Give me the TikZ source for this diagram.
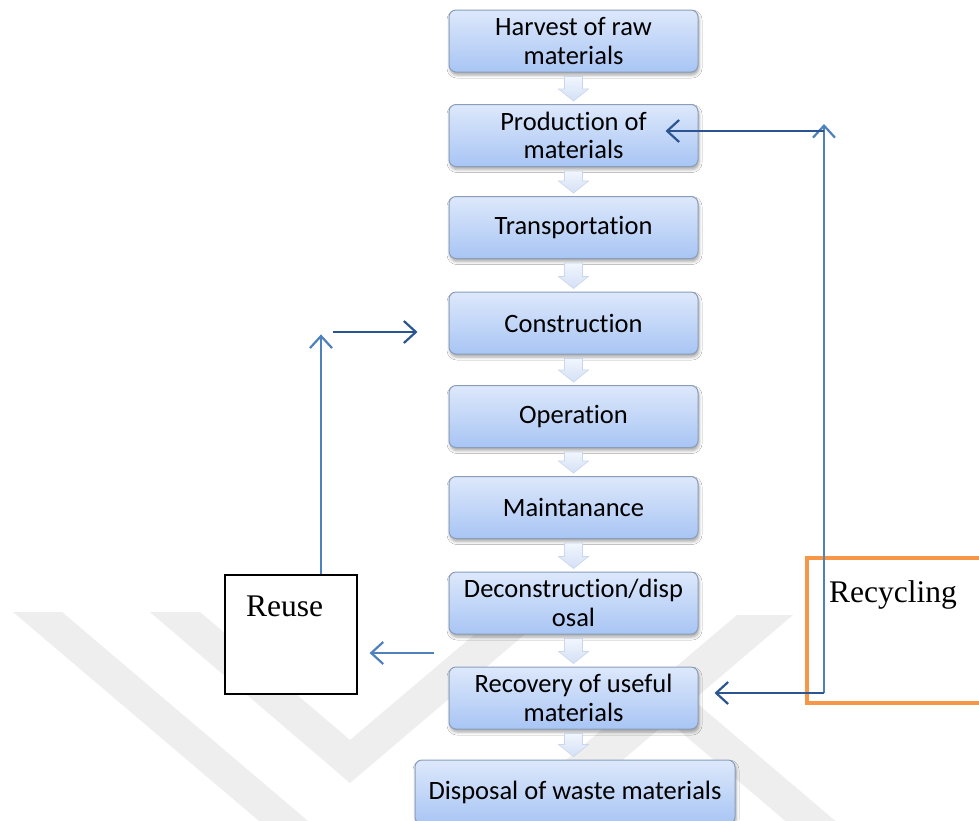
\documentclass[tikz,border=0pt]{standalone}
\usepackage{fontspec}
\setmainfont{Liberation Serif}
\newfontfamily\boxfont{Carlito}[RawFeature={-liga;-clig;-dlig;-rlig;-calt}]
\usetikzlibrary{arrows.meta,shadows.blur,calc}

\definecolor{boxtop}{HTML}{DDE8FB}
\definecolor{boxbot}{HTML}{A8C5F4}
\definecolor{boxline}{HTML}{8A9DBB}
\definecolor{arrtop}{HTML}{F2F6FD}
\definecolor{arrbot}{HTML}{D3E0F6}
\definecolor{arrline}{HTML}{C9D6EC}
\definecolor{linkblue}{HTML}{4F81BD}
\definecolor{linknavy}{HTML}{2A5592}
\definecolor{recyorange}{HTML}{F79646}
\definecolor{markgray}{HTML}{EEEEEE}

% block arrow pointing down from one stage to the next
\newcommand{\stagearrow}[2]{%
  \path[stagedown] let \p1=(#1.south), \p2=(#2.north) in
    ({\x1-9pt},{\y1-4pt}) -- ({\x1+9pt},{\y1-4pt}) -- ({\x1+9pt},{\y2+15pt})
    -- ({\x1+15pt},{\y2+15pt}) -- (\x1,{\y2+3pt}) -- ({\x1-15pt},{\y2+15pt})
    -- ({\x1-9pt},{\y2+15pt}) -- cycle;}

\begin{document}
\begin{tikzpicture}[x=1pt,y=1pt,
  stage/.style={draw=boxline, line width=1pt, rounded corners=7pt,
    top color=boxtop, bottom color=boxbot,
    minimum width=249pt, minimum height=62pt, inner sep=2pt, align=center,
    font=\boxfont\fontsize{26.5}{28.5}\selectfont,
    blur shadow={shadow xshift=1pt, shadow yshift=-3pt, shadow opacity=35, shadow blur radius=3pt}},
  stagedown/.style={draw=arrline, line width=0.6pt, top color=arrtop, bottom color=arrbot},
  link/.style={line width=2.2pt, -{Straight Barb[length=12pt,width=22pt]}},
  sidebox/.style={draw, line width=1.2pt, fill=white, inner sep=0pt},
  sidetext/.style={font=\fontsize{31.5}{34}\selectfont, inner sep=0pt},
  emblem/.style={fill=markgray, draw=none}
]
\clip (0,0) rectangle (979,-820);
\fill[white] (0,0) rectangle (979,-820);

% faint background emblem
\path[emblem] (13,-612) -- (62,-612) -- (401,-900) -- (737,-615) -- (793,-615) -- (405,-945) -- cycle;
\path[emblem] (150,-612) -- (200,-612) -- (350,-740) -- (501,-612) -- (551,-612) -- (350,-783) -- cycle;
\path[emblem] (693,-700) -- (846,-830) -- (796,-830) -- (668,-721) -- cycle;

% life-cycle stages
\node[stage] (harv)   at (573.5,-41)    {Harvest of raw\\materials};
\node[stage] (prod)   at (573.5,-135.5) {Production of\\materials};
\node[stage] (trans)  at (573.5,-227.5) {Transportation};
\node[stage] (constr) at (573.5,-323)   {Construction};
\node[stage] (oper)   at (573.5,-416.5) {Operation};
\node[stage] (maint)  at (573.5,-507.5) {Maintanance};
\node[stage] (decon)  at (573.5,-603)   {Deconstruction/disp\\osal};
\node[stage] (recov)  at (573.5,-698)   {Recovery of useful\\materials};
\node[stage, minimum width=320pt, minimum height=64pt] (disp) at (575,-792) {Disposal of waste materials};

\stagearrow{harv}{prod}
\stagearrow{prod}{trans}
\stagearrow{trans}{constr}
\stagearrow{constr}{oper}
\stagearrow{oper}{maint}
\stagearrow{maint}{decon}
\stagearrow{decon}{recov}
\stagearrow{recov}{disp}

% reuse loop
\node[sidebox, minimum width=132pt, minimum height=119pt] (reuse) at (291,-634.5) {};
\node[sidetext, anchor=base] (reuselbl) at (284.5,-616) {Reuse};
\coordinate (reuseFoot) at ($(reuse.north)+(30,0)$);
\coordinate (reuseTop)  at ($(reuse.north)+(30,240)$);
\coordinate (reuseFrom) at ($(constr.west)+(-116,-9)$);
\coordinate (reuseInto) at ($(constr.west)+(-31,-9)$);
\coordinate (deconOut)  at ($(decon.west)+(-15,-50)$);
\coordinate (reuseSide) at ($(reuse.east)+(12,-18.5)$);
\draw[link, linkblue] (reuseFoot) -- (reuseTop);
\draw[link, linknavy] (reuseFrom) -- (reuseInto);
\draw[link, linkblue] (deconOut) -- (reuseSide);

% recycling loop
\draw[recyorange, line width=4pt] (807,-558) rectangle (1000,-703);
\node[sidetext, anchor=base west] (recylbl) at (829,-602) {Recycling};
\coordinate (recyFoot) at (824,-693);
\coordinate (recyTop)  at (824,-124);
\coordinate (recyHigh) at (824,-131);
\coordinate (prodInto) at ($(prod.east)+(-33,4.5)$);
\coordinate (recovInto) at ($(recov.east)+(16,5)$);
\draw[link, linkblue] (recyFoot) -- (recyTop);
\draw[link, linknavy] (recyHigh) -- (prodInto);
\draw[link, linknavy] (recyFoot) -- (recovInto);
\end{tikzpicture}
\end{document}
